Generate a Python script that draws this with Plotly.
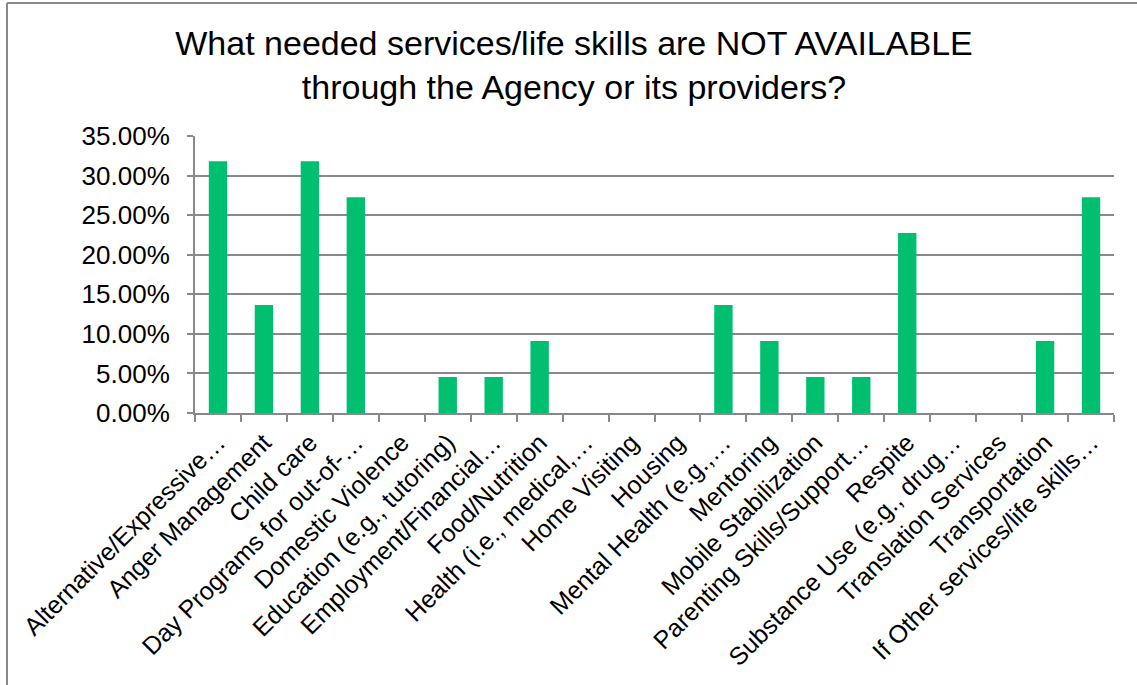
import plotly.graph_objects as go

# Survey responses: share of respondents naming each unavailable service
categories = [
    "Alternative/Expressive…",
    "Anger Management",
    "Child care",
    "Day Programs for out-of-…",
    "Domestic Violence",
    "Education (e.g., tutoring)",
    "Employment/Financial…",
    "Food/Nutrition",
    "Health (i.e., medical,…",
    "Home Visiting",
    "Housing",
    "Mental Health (e.g.,…",
    "Mentoring",
    "Mobile Stabilization",
    "Parenting Skills/Support…",
    "Respite",
    "Substance Use (e.g., drug…",
    "Translation Services",
    "Transportation",
    "If Other services/life skills…",
]
shares = [
    0.3182, 0.1364, 0.3182, 0.2727, 0.0, 0.0455, 0.0455, 0.0909, 0.0, 0.0,
    0.0, 0.1364, 0.0909, 0.0455, 0.0455, 0.2273, 0.0, 0.0, 0.0909, 0.2727,
]
title_text = (
    "What needed services/life skills are NOT AVAILABLE<br>"
    "through the Agency or its providers?"
)

W, H = 1137, 685
ML, MR, MT, MB = 195, 23, 136, 272
GRAY = "#898989"
FONT = "Liberation Sans, Arial, sans-serif"

fig = go.Figure(
    go.Bar(
        x=categories,
        y=shares,
        marker=dict(color="#00BF6F", line=dict(width=0)),
        hoverinfo="x+y",
    )
)


def px_x(p):
    return (p - ML) / (W - ML - MR)


def px_y(p):
    return (H - MB - p) / (H - MT - MB)


# frame around the chart area (top and left edges)
shapes = [
    dict(type="line", xref="paper", yref="paper",
         x0=px_x(7), x1=px_x(W + 5), y0=px_y(3), y1=px_y(3),
         line=dict(color=GRAY, width=2)),
    dict(type="line", xref="paper", yref="paper",
         x0=px_x(7), x1=px_x(7), y0=px_y(3), y1=px_y(H + 5),
         line=dict(color=GRAY, width=2)),
]

fig.update_layout(
    width=W,
    height=H,
    margin=dict(l=ML, r=MR, t=MT, b=MB, autoexpand=False),
    paper_bgcolor="white",
    plot_bgcolor="white",
    bargap=0.6,
    showlegend=False,
    font=dict(family=FONT, color="#000000"),
    title=dict(
        text=title_text,
        xref="container",
        x=574 / W,
        xanchor="center",
        yref="container",
        y=1 - 55 / H,
        yanchor="middle",
        font=dict(family=FONT, size=34, color="#000000"),
    ),
    shapes=shapes,
    xaxis=dict(
        type="category",
        tickangle=-45,
        tickson="boundaries",
        ticks="outside",
        ticklen=7,
        tickwidth=2,
        tickcolor=GRAY,
        showline=True,
        linecolor=GRAY,
        linewidth=2,
        showgrid=False,
        ticklabelstandoff=3,
        tickfont=dict(family=FONT, size=25, color="#000000"),
        automargin=False,
    ),
    yaxis=dict(
        range=[0, 0.35],
        dtick=0.05,
        tickformat=".2%",
        ticks="outside",
        ticklen=6,
        tickwidth=2,
        tickcolor=GRAY,
        showline=True,
        linecolor=GRAY,
        linewidth=2,
        showgrid=True,
        gridcolor=GRAY,
        gridwidth=2,
        zeroline=False,
        ticklabelstandoff=12,
        tickfont=dict(family=FONT, size=26, color="#000000"),
        automargin=False,
    ),
)

fig.write_html("out.html")
